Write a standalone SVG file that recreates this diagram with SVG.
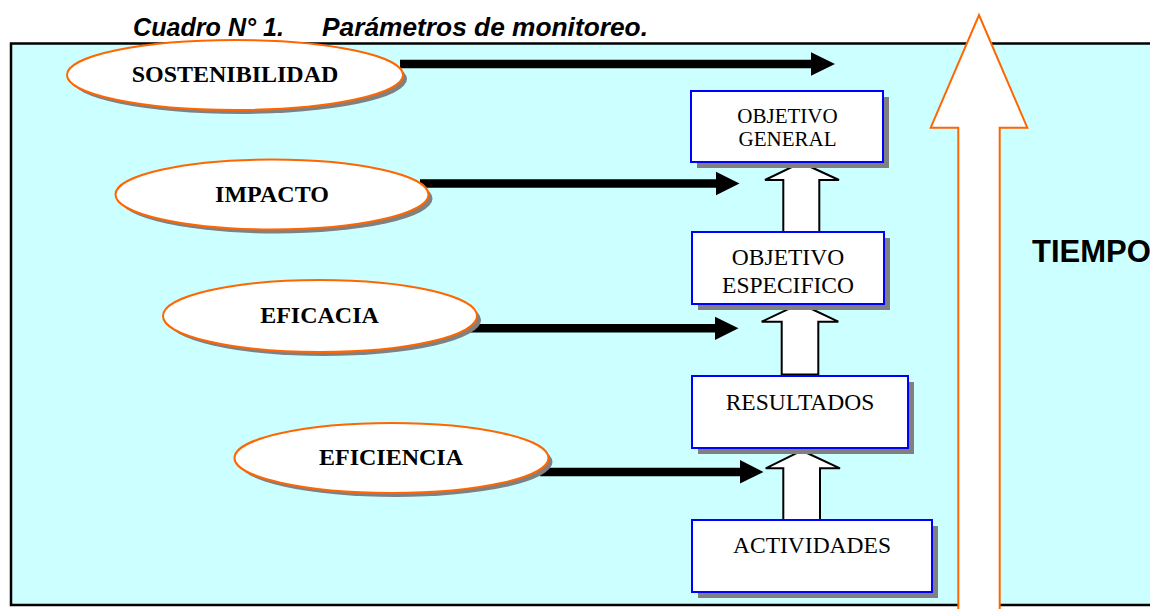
<svg xmlns="http://www.w3.org/2000/svg" width="1150" height="609" viewBox="0 0 1150 609">
<defs>
<style>
.title{font-family:"Liberation Sans",Arial,sans-serif;font-weight:bold;font-style:italic;font-size:26px;fill:#000}
.tiempo{font-family:"Liberation Sans",Arial,sans-serif;font-weight:bold;font-size:31px;fill:#000}
.elab{font-family:"Liberation Serif","Times New Roman",serif;font-weight:bold;font-size:24px;fill:#000;text-anchor:middle}
.blab{font-family:"Liberation Serif","Times New Roman",serif;font-size:21px;fill:#000;text-anchor:middle}
.blab2{font-family:"Liberation Serif","Times New Roman",serif;font-size:23.5px;fill:#000;text-anchor:middle}
.ell{fill:#fff;stroke:#ff6600;stroke-width:2}
.eshadow{fill:#808080}
.box{fill:#fff;stroke:#0000ff;stroke-width:2}
.bshadow{fill:#808080}
.bar{stroke:#000;stroke-width:8.5;fill:none}
.head{fill:#000}
.hollow{fill:#fff;stroke:#000;stroke-width:2;stroke-linejoin:miter}
</style>
</defs>
<rect x="0" y="0" width="1150" height="609" fill="#ffffff"/>
<text class="title" x="133" y="36" textLength="151" lengthAdjust="spacingAndGlyphs">Cuadro N° 1.</text>
<text class="title" x="322" y="36" textLength="326" lengthAdjust="spacingAndGlyphs">Parámetros de monitoreo.</text>
<rect x="11" y="43.5" width="1150" height="561.5" fill="#ccffff" stroke="#000" stroke-width="2.5"/>
<text class="tiempo" x="1032" y="262">TIEMPO</text>

<g id="connectors">
<line class="bar" x1="400" y1="64" x2="813" y2="64"/>
<polygon class="head" points="811,52.3 835,64 811,75.7"/>
<line class="bar" x1="420" y1="183.5" x2="718" y2="183.5"/>
<polygon class="head" points="716,171.7 739.5,183.5 716,195.3"/>
<line class="bar" x1="470" y1="328.3" x2="717" y2="328.3"/>
<polygon class="head" points="715,316.7 738.5,328.3 715,340"/>
<line class="bar" x1="540" y1="472" x2="742" y2="472"/>
<polygon class="head" points="740,460 763.5,472 740,483.5"/>
<polygon class="hollow" points="801,162.5 839,180 819.3,180 819.3,232.3 783.3,232.3 783.3,180 765,180"/>
<polygon class="hollow" points="800,303.5 838.3,321.7 818.3,321.7 818.3,374.5 781.7,374.5 781.7,321.7 761.7,321.7"/>
<polygon class="hollow" points="801.7,450.5 840,468.3 820,468.3 820,520 783.3,520 783.3,468.3 765.7,468.3"/>
</g>

<g id="sostenibilidad">
<ellipse class="eshadow" cx="239" cy="79" rx="168" ry="35"/>
<ellipse class="ell" cx="235" cy="75" rx="168" ry="35"/>
<text class="elab" x="235" y="82">SOSTENIBILIDAD</text>
</g>
<g id="impacto">
<ellipse class="eshadow" cx="276" cy="198.5" rx="156.5" ry="35"/>
<ellipse class="ell" cx="272" cy="194.5" rx="156.5" ry="35"/>
<text class="elab" x="272" y="201.7">IMPACTO</text>
</g>
<g id="eficacia">
<ellipse class="eshadow" cx="324" cy="320" rx="157" ry="36"/>
<ellipse class="ell" cx="320" cy="316" rx="157" ry="36"/>
<text class="elab" x="319.5" y="322.5">EFICACIA</text>
</g>
<g id="eficiencia">
<ellipse class="eshadow" cx="395.5" cy="462" rx="157" ry="35"/>
<ellipse class="ell" cx="391.5" cy="458" rx="157" ry="35"/>
<text class="elab" x="391" y="465">EFICIENCIA</text>
</g>

<g id="objetivo-general">
<rect class="bshadow" x="697" y="97" width="192" height="71"/>
<rect class="box" x="691" y="91" width="192" height="71"/>
<text class="blab" x="787.5" y="122.7">OBJETIVO</text>
<text class="blab" x="787.5" y="145.7">GENERAL</text>
</g>
<g id="objetivo-especifico">
<rect class="bshadow" x="698" y="238" width="192" height="72"/>
<rect class="box" x="692" y="232" width="192" height="72"/>
<text class="blab2" x="788" y="265">OBJETIVO</text>
<text class="blab2" x="788" y="293">ESPECIFICO</text>
</g>
<g id="resultados">
<rect class="bshadow" x="698" y="382" width="216" height="72"/>
<rect class="box" x="692" y="376" width="216" height="72"/>
<text class="blab2" x="800" y="409.5">RESULTADOS</text>
</g>
<g id="actividades">
<rect class="bshadow" x="698" y="526" width="240" height="72"/>
<rect class="box" x="692" y="520" width="240" height="72"/>
<text class="blab2" x="812" y="553">ACTIVIDADES</text>
</g>

<g id="tiempo-arrow">
<polygon points="979,15 1027.3,127.7 999.7,127.7 999.7,615 958.3,615 958.3,127.7 930.7,127.7" fill="#fff" stroke="#ff6600" stroke-width="2"/>
</g>
</svg>
